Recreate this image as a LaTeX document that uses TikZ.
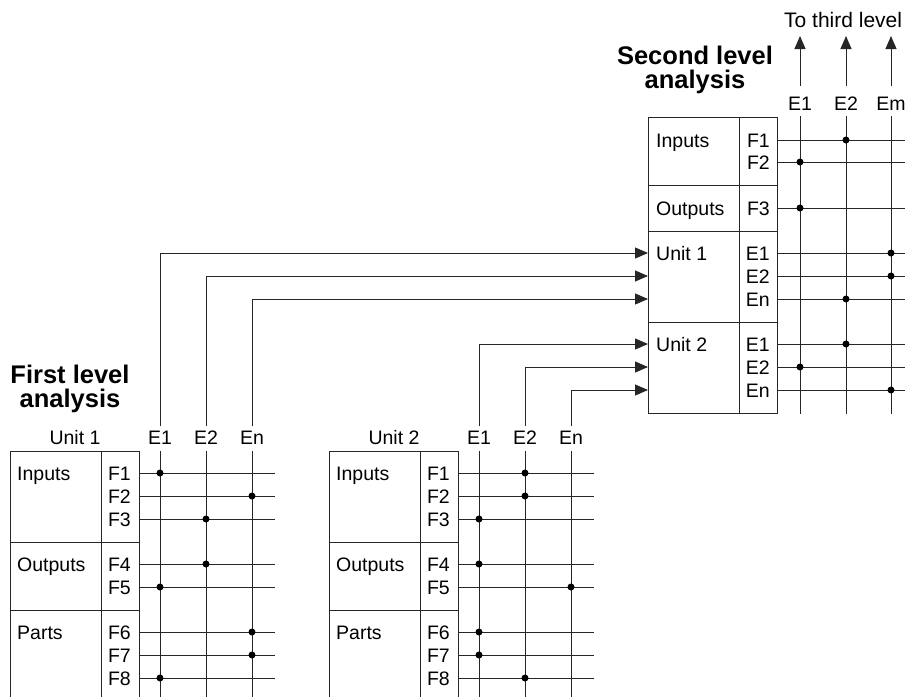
\documentclass[tikz,border=0pt]{standalone}
\usepackage{fontspec}
\setmainfont{Liberation Sans}
\usetikzlibrary{arrows.meta}
\newcommand\firstunit[4]{%
\begin{scope}[xshift=#2]
  \draw[tbl] (10,697) -- (10,451) -- (139,451) -- (139,697);
  \draw[tbl] (101,451) -- (101,697);
  \draw[tbl] (10,542) -- (139,542) (10,610) -- (139,610);
  \node[lbl, anchor=base west] (#1in) at (17,480) {Inputs};
  \node[lbl, anchor=base west] (#1out) at (17,571) {Outputs};
  \node[lbl, anchor=base west] (#1parts) at (17,639) {Parts};
  \node[lbl, anchor=base] (#1name) at (75,444) {Unit #4};
  \foreach \c/\x/\t in {1/160/E1, 2/206/E2, 3/252/En} {
    \node[lbl, anchor=base] (#1E\c) at (\x,444) {\t};
    \coordinate (#1top\c) at (\x,451);
    \coordinate (#1bot\c) at (\x,697);
    \coordinate (#1up\c) at (\x,426);
    \draw[grid] (#1top\c) -- (#1bot\c);
  }
  \foreach \r/\y in {1/473,2/496,3/519,4/564,5/587,6/632,7/655,8/678} {
    \node[lbl, anchor=base east] (#1F\r) at (131,\y+7) {F\r};
    \coordinate (#1a\r) at (139,\y);
    \coordinate (#1b\r) at (275,\y);
    \draw[grid] (#1a\r) -- (#1b\r);
  }
  \foreach \r/\c in {#3} { \node[dot] at (#1a\r -| #1top\c) {}; }
\end{scope}}
\begin{document}
\begin{tikzpicture}[x=1pt,y=-1pt,
  tbl/.style={line width=1pt, draw=black!85},
  grid/.style={line width=1pt, draw=black!85},
  lbl/.style={font=\fontsize{19.5}{20}\selectfont, inner sep=0pt},
  ttl/.style={font=\fontsize{25.5}{24}\selectfont\bfseries, align=center, inner sep=0pt},
  dot/.style={circle, fill=black, inner sep=0pt, minimum size=7pt},
  arr/.style={line width=1pt, draw=black!85, -{Triangle[length=13pt,width=11pt]}}]
\useasboundingbox (0,0) rectangle (905,697);

% titles
\node[ttl, anchor=base] (t1) at (70,407) {First level\\analysis};
\node[ttl, anchor=base] (t2) at (695,88) {Second level\\analysis};

% first level units
\firstunit{a}{0}{1/1,2/3,3/2,4/2,5/1,6/3,7/3,8/1}{1}
\firstunit{b}{319}{1/2,2/2,3/1,4/1,5/3,6/1,7/1,8/2}{2}

% second level box
\draw[tbl] (648,117) rectangle (777,413);
\draw[tbl] (739,117) -- (739,413);
\draw[tbl] (648,185) -- (777,185) (648,231) -- (777,231) (648,322) -- (777,322);
\node[lbl, anchor=base west] (sin) at (656,147) {Inputs};
\node[lbl, anchor=base west] (sout) at (656,215) {Outputs};
\node[lbl, anchor=base west] (su1) at (656,260) {Unit 1};
\node[lbl, anchor=base west] (su2) at (656,351) {Unit 2};

\foreach \c/\x/\t in {1/800/E1, 2/846/E2, 3/891/Em} {
  \node[lbl, anchor=base] (sE\c) at (\x,110) {\t};
  \coordinate (stop\c) at (\x,116);
  \coordinate (sbot\c) at (\x,414);
  \coordinate (sarr\c) at (\x,86);
  \coordinate (stip\c) at (\x,36);
  \draw[grid] (stop\c) -- (sbot\c);
  \draw[arr] (sarr\c) -- (stip\c);
}
\node[lbl, font=\fontsize{21}{21}\selectfont, anchor=base west] (third) at (784,27) {To third level};

\foreach \r/\y/\t in {1/140/F1,2/162/F2,3/208/F3,4/253/E1,5/276/E2,6/299/En,7/344/E1,8/367/E2,9/390/En} {
  \node[lbl, anchor=base east] (sF\r) at (770,\y+7) {\t};
  \coordinate (sa\r) at (777,\y);
  \coordinate (sb\r) at (905,\y);
  \coordinate (sin\r) at (648,\y);
  \draw[grid] (sa\r) -- (sb\r);
}
\foreach \r/\c in {1/2,2/1,3/1,4/3,5/3,6/2,7/2,8/1,9/3} { \node[dot] at (sa\r -| stop\c) {}; }

% connectors to second level
\draw[arr] (aup1) |- (sin4);
\draw[arr] (aup2) |- (sin5);
\draw[arr] (aup3) |- (sin6);
\draw[arr] (bup1) |- (sin7);
\draw[arr] (bup2) |- (sin8);
\draw[arr] (bup3) |- (sin9);
\end{tikzpicture}
\end{document}
